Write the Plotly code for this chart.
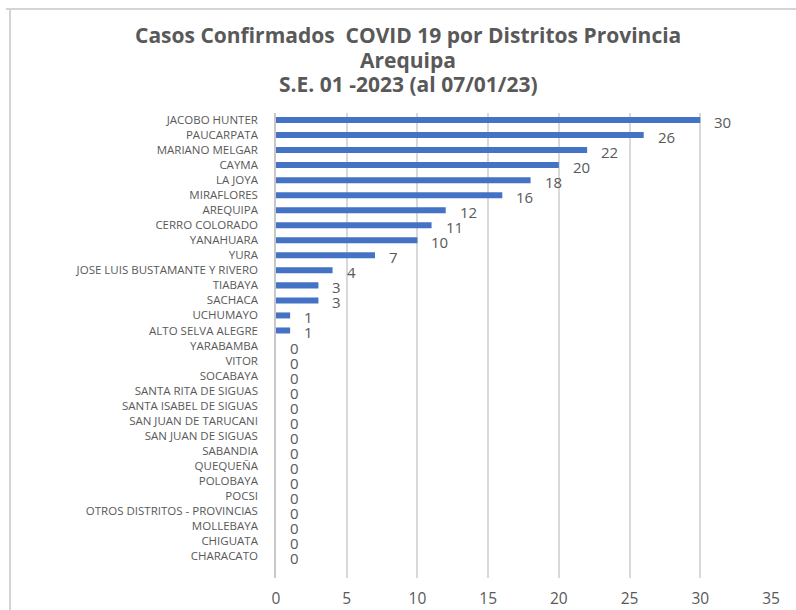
import plotly.graph_objects as go

# Distritos y casos confirmados (S.E. 01-2023)
distritos = [
    "JACOBO HUNTER", "PAUCARPATA", "MARIANO MELGAR", "CAYMA", "LA JOYA",
    "MIRAFLORES", "AREQUIPA", "CERRO COLORADO", "YANAHUARA", "YURA",
    "JOSE LUIS BUSTAMANTE Y RIVERO", "TIABAYA", "SACHACA", "UCHUMAYO",
    "ALTO SELVA ALEGRE", "YARABAMBA", "VITOR", "SOCABAYA",
    "SANTA RITA DE SIGUAS", "SANTA ISABEL DE SIGUAS", "SAN JUAN DE TARUCANI",
    "SAN JUAN DE SIGUAS", "SABANDIA", "QUEQUEÑA", "POLOBAYA", "POCSI",
    "OTROS DISTRITOS - PROVINCIAS", "MOLLEBAYA", "CHIGUATA", "CHARACATO",
]
casos = [30, 26, 22, 20, 18, 16, 12, 11, 10, 7, 4, 3, 3, 1, 1,
         0, 0, 0, 0, 0, 0, 0, 0, 0, 0, 0, 0, 0, 0, 0]
x_ticks = [0, 5, 10, 15, 20, 25, 30, 35]
titulo = [
    "Casos Confirmados  COVID 19 por Distritos Provincia",
    "Arequipa",
    "S.E. 01 -2023 (al 07/01/23)",
]

W, H = 796, 610
ML, MR, MT, MB = 276, 25, 113, 32
GREY = "#595959"
FONT = "Open Sans"

pw = W - ML - MR
ph = H - MT - MB


def px(xp):
    # page pixel column -> paper x
    return (xp - ML) / pw


def py(yp):
    # page pixel row -> paper y
    return (H - MB - yp) / ph


fig = go.Figure(
    go.Bar(
        x=casos,
        y=distritos,
        orientation="h",
        marker=dict(color="#4472C4", line=dict(width=0)),
        hoverinfo="x+y",
    )
)

# value labels to the right of each bar
for d, v in zip(distritos, casos):
    fig.add_annotation(
        x=v, y=d, text=str(v), showarrow=False,
        xanchor="left", yanchor="middle", xshift=12, yshift=-2,
        font=dict(family=FONT, size=15, color=GREY),
    )

# three-line title
for txt, row in zip(titulo, [35, 60, 84]):
    fig.add_annotation(
        xref="paper", yref="paper", x=px(408), y=py(row),
        text=txt, showarrow=False, xanchor="center", yanchor="middle",
        font=dict(family=FONT, size=21, color=GREY, weight="bold"),
    )

# light frame along the top and left of the chart
fig.add_shape(type="line", xref="paper", yref="paper",
              x0=px(6), x1=px(W), y0=py(9), y1=py(9),
              line=dict(color="#d4d4d4", width=2))
fig.add_shape(type="line", xref="paper", yref="paper",
              x0=px(10), x1=px(10), y0=py(9), y1=py(H),
              line=dict(color="#d4d4d4", width=2))

fig.update_layout(
    width=W, height=H,
    margin=dict(l=ML, r=MR, t=MT, b=MB, pad=0),
    paper_bgcolor="white", plot_bgcolor="white",
    bargap=0.6,
    showlegend=False,
    xaxis=dict(
        range=[0, 35], tickvals=x_ticks, ticktext=[str(t) for t in x_ticks],
        showgrid=True, gridcolor="#d9d9d9", gridwidth=1.5,
        zeroline=False, showline=False, automargin=False,
        ticks="outside", ticklen=6, tickcolor="rgba(0,0,0,0)",
        tickfont=dict(family=FONT, size=15.5, color=GREY),
        fixedrange=True,
    ),
    yaxis=dict(
        type="category",
        tickmode="array", tickvals=distritos, ticktext=distritos,
        range=[29 + (578 - 556) / 15.03, -(120 - 113) / 15.03],
        showgrid=False, zeroline=False, automargin=False,
        showline=True, linecolor="#c8c8c8", linewidth=1.5,
        ticks="outside", ticklen=14, tickcolor="rgba(0,0,0,0)",
        tickfont=dict(family=FONT, size=11.5, color=GREY),
        fixedrange=True,
    ),
)

fig.write_html("out.html")
